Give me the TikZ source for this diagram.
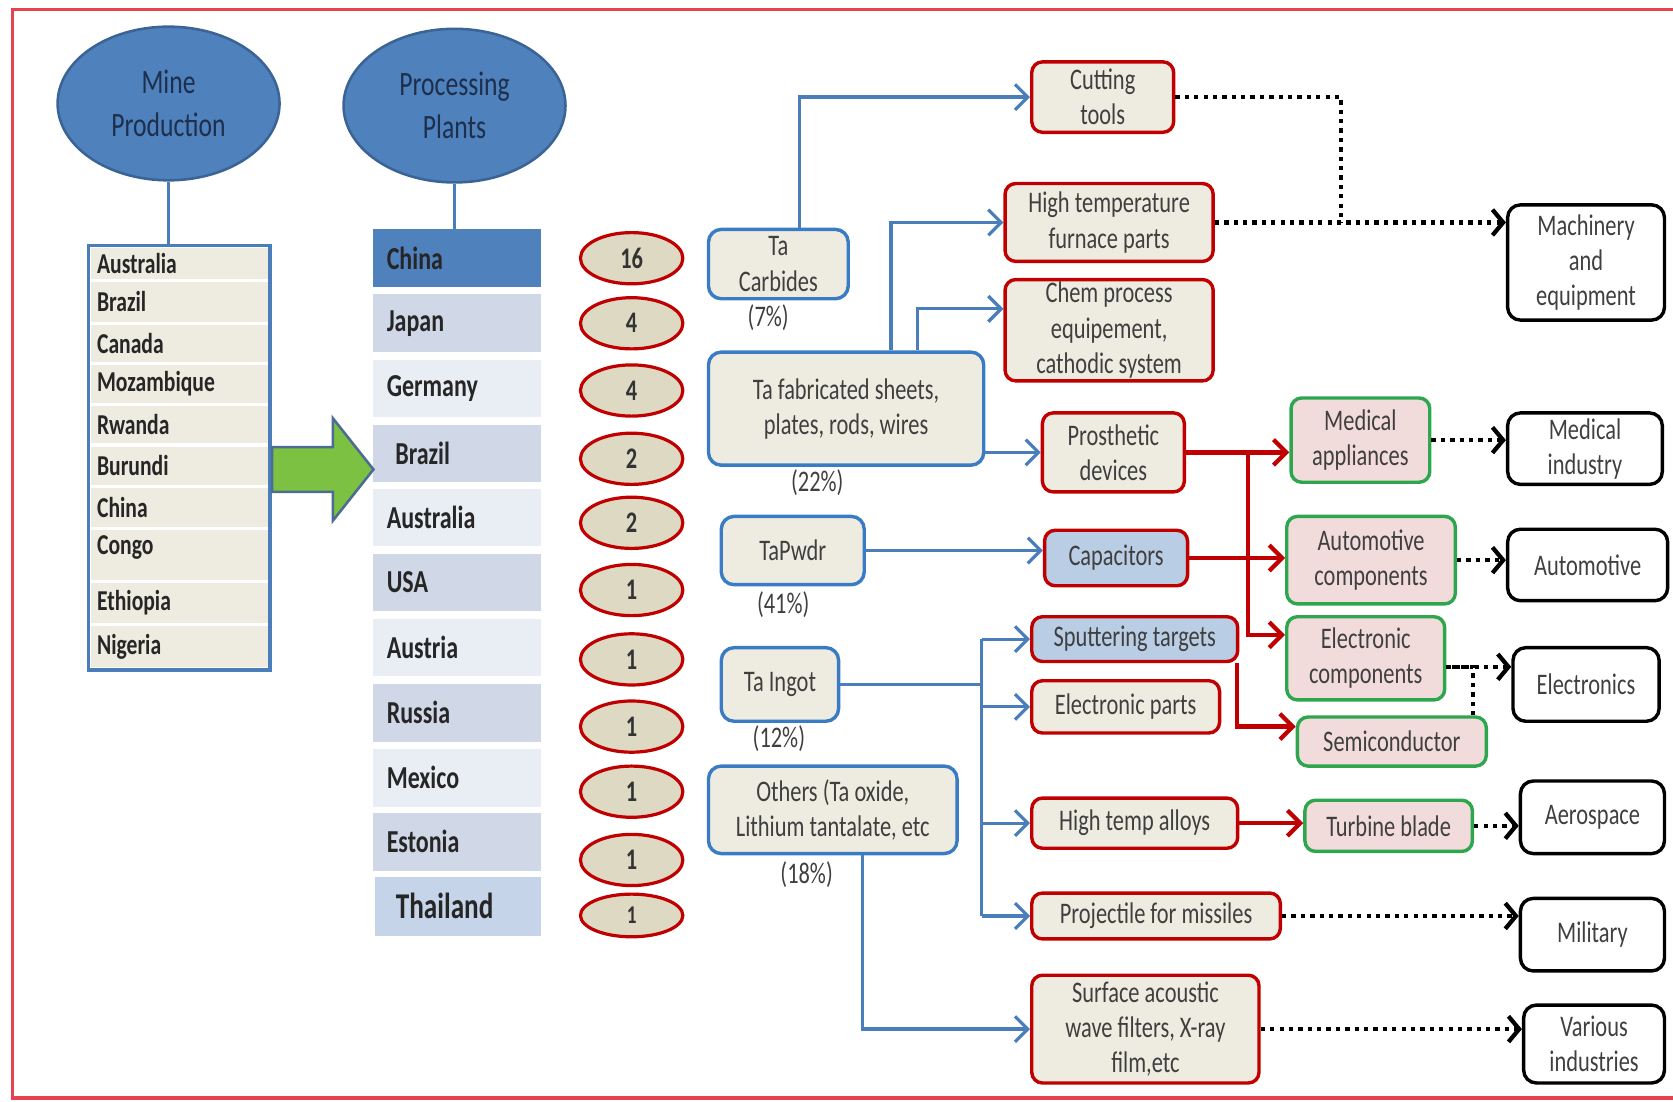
\documentclass[tikz,border=0pt]{standalone}
\usepackage{fontspec}
\setmainfont[FakeStretch=0.75]{Carlito}
\usetikzlibrary{shapes.geometric,arrows.meta}

\definecolor{framered}{HTML}{E5444F}
\definecolor{ovalblue}{HTML}{4F81BD}
\definecolor{ovalline}{HTML}{3A6496}
\definecolor{ovaltext}{HTML}{1D2F4C}
\definecolor{listbeige}{HTML}{EEECE1}
\definecolor{listblue}{HTML}{4A7EBB}
\definecolor{rowdark}{HTML}{D0D8E8}
\definecolor{rowlight}{HTML}{E9EDF4}
\definecolor{rowthai}{HTML}{C5D4E9}
\definecolor{countfill}{HTML}{DDD9C3}
\definecolor{darkred}{HTML}{C00000}
\definecolor{prodblue}{HTML}{3A7CC4}
\definecolor{linkblue}{HTML}{4A7EBB}
\definecolor{usesky}{HTML}{B9CDE5}
\definecolor{partgreen}{HTML}{2EA64E}
\definecolor{partpink}{HTML}{F2DCDB}
\definecolor{arrowgreen}{HTML}{7CC142}
\definecolor{arrowedge}{HTML}{4C6C93}
\definecolor{boxtext}{HTML}{3F3F3F}

\begin{document}
\begin{tikzpicture}[x=0.5pt,y=-0.5pt,
	every node/.style={font=\fontsize{14}{16.5}\selectfont, text=boxtext, inner sep=2pt},
	source/.style={ellipse, draw=ovalline, fill=ovalblue, line width=1.2pt,
		minimum width=104pt, minimum height=72pt, text=ovaltext,
		font=\fontsize{16}{20}\selectfont, align=center},
	minerow/.style={rectangle, fill=listbeige, minimum width=83pt, text width=77pt,
		align=left, inner xsep=3pt, text=black!85, font=\fontsize{13.5}{16}\selectfont\bfseries},
	plant/.style={rectangle, minimum width=78.5pt, minimum height=27pt, text width=66pt,
		align=left, inner xsep=6pt, text=black!85, font=\fontsize{15}{18}\selectfont\bfseries},
	count/.style={ellipse, draw=darkred, fill=countfill, line width=1.5pt,
		minimum width=48pt, minimum height=24pt, inner sep=0pt, text=black!80,
		font=\fontsize{14}{16}\selectfont\bfseries},
	product/.style={rectangle, rounded corners=6pt, draw=prodblue, fill=listbeige,
		line width=1.6pt, align=center},
	use/.style={rectangle, rounded corners=5pt, draw=darkred, fill=listbeige,
		line width=1.6pt, align=center},
	part/.style={rectangle, rounded corners=5pt, draw=partgreen, fill=partpink,
		line width=1.6pt, align=center},
	sector/.style={rectangle, rounded corners=6pt, draw=black, fill=white,
		line width=1.6pt, align=center, text=black!75},
	feed/.style={draw=linkblue, line width=1.5pt, -{Straight Barb[length=6pt,width=12pt]}},
	make/.style={draw=darkred, line width=2pt, -{Straight Barb[length=6pt,width=12pt]}},
	market/.style={draw=black, line width=2pt, dash pattern=on 2pt off 2.4pt},
	]
	\useasboundingbox (0,0) rectangle (1568,1032);
	\draw[framered, line width=1.5pt] (12,9) rectangle (1620,1029);

	% where the ore comes from and where it is processed
	\node[source] (mine) at (158,97) {Mine\\Production};
	\node[source] (plants) at (426,99) {Processing\\Plants};

	\node[rectangle, draw=listblue, fill=white, line width=1.5pt,
		minimum width=85pt, minimum height=199pt] (minelist) at (168,429) {};
	\node[minerow, minimum height=14.5pt] (mAus) at (168,247) {Australia};
	\node[minerow, minimum height=18.5pt] (mBra) at (168,283) {Brazil};
	\node[minerow, minimum height=17.5pt] (mCan) at (168,322) {Canada};
	\node[minerow, minimum height=17.5pt] (mMoz) at (168,360) {Mozambique};
	\node[minerow, minimum height=17.5pt] (mRwa) at (168,398) {Rwanda};
	\node[minerow, minimum height=18pt] (mBur) at (168,436.5) {Burundi};
	\node[minerow, minimum height=18pt] (mChi) at (168,475.5) {China};
	\node[minerow, minimum height=23.5pt, text depth=9pt] (mCon) at (168,520) {Congo};
	\node[minerow, minimum height=18.5pt] (mEth) at (168,565) {Ethiopia};
	\node[minerow, minimum height=19.5pt] (mNig) at (168,606) {Nigeria};

	\node[plant, fill=ovalblue] (pChina) at (428.5,242) {China};
	\node[plant, fill=rowdark] (pJapan) at (428.5,303) {Japan};
	\node[plant, fill=rowlight] (pGermany) at (428.5,364) {Germany};
	\node[plant, fill=rowdark] (pBrazil) at (428.5,425) {\hspace{4pt}Brazil};
	\node[plant, fill=rowlight] (pAustralia) at (428.5,485) {Australia};
	\node[plant, fill=rowdark] (pUSA) at (428.5,546) {USA};
	\node[plant, fill=rowlight] (pAustria) at (428.5,607) {Austria};
	\node[plant, fill=rowdark] (pRussia) at (428.5,668) {Russia};
	\node[plant, fill=rowlight] (pMexico) at (428.5,729) {Mexico};
	\node[plant, fill=rowdark] (pEstonia) at (428.5,789) {Estonia};
	\node[plant, fill=rowthai, minimum width=76pt, minimum height=27.5pt,
		font=\fontsize{17}{20}\selectfont\bfseries] (pThailand) at (429,849.5) {\hspace{4pt}Thailand};

	\node[count] (cChina) at (592,242) {16};
	\node[count] (cJapan) at (592,303) {4};
	\node[count] (cGermany) at (592,366) {4};
	\node[count] (cBrazil) at (592,430) {2};
	\node[count] (cAustralia) at (592,490) {2};
	\node[count] (cUSA) at (592,553) {1};
	\node[count] (cAustria) at (592,618) {1};
	\node[count] (cRussia) at (592,681) {1};
	\node[count] (cMexico) at (592,742) {1};
	\node[count] (cEstonia) at (592,806) {1};
	\node[count, minimum height=20pt, font=\fontsize{12}{14}\selectfont\bfseries] (cThailand) at (592,858) {1};

	\draw[listblue, line width=1.5pt] (mine.south) -- (mine.south |- minelist.north);
	\draw[listblue, line width=1.5pt] (plants.south) -- (plants.south |- pChina.north);
	\draw[fill=arrowgreen, draw=arrowedge, line width=1.2pt]
		(255,419) -- (312,419) -- (312,392) -- (350,440) -- (312,488) -- (312,461) -- (255,461) -- cycle;

	% tantalum products and their shares
	\node[product, minimum width=65.5pt, minimum height=32.5pt] (carb) at (729.5,247.5) {Ta\\Carbides};
	\node[product, minimum width=129pt, minimum height=53pt] (fab) at (793,383) {Ta fabricated sheets,\\plates, rods, wires};
	\node[product, minimum width=67pt, minimum height=32pt] (pwdr) at (743,516) {TaPwdr};
	\node[product, minimum width=55pt, minimum height=34.5pt] (ingot) at (731,641.5) {Ta Ingot};
	\node[product, minimum width=116.5pt, minimum height=41pt] (others) at (780.5,759) {Others (Ta oxide,\\Lithium tantalate, etc};

	\node (carbpct) at (720,298) {(7\%)};
	\node (fabpct) at (766,452) {(22\%)};
	\node (pwdrpct) at (734,567) {(41\%)};
	\node (ingotpct) at (730,692) {(12\%)};
	\node (otherspct) at (756,820) {(18\%)};

	% first uses
	\node[use, minimum width=66.5pt, minimum height=33pt] (cut) at (1033.5,91) {Cutting\\tools};
	\node[use, minimum width=97.5pt, minimum height=36.5pt] (furn) at (1039.5,208.5) {High temperature\\furnace parts};
	\node[use, minimum width=97.5pt, minimum height=47.5pt, inner ysep=0pt] (chem) at (1039.5,309.5) {Chem process\\equipement,\\cathodic system};
	\node[use, minimum width=66.5pt, minimum height=37pt] (pros) at (1043.5,424) {Prosthetic\\devices};
	\node[use, fill=usesky, minimum width=67pt, minimum height=26pt] (cap) at (1046,523) {Capacitors};
	\node[use, fill=usesky, minimum width=96.5pt, minimum height=21pt] (sput) at (1063.5,599) {Sputtering targets};
	\node[use, minimum width=88pt, minimum height=24.5pt] (epart) at (1055,662.5) {Electronic parts};
	\node[use, minimum width=96.5pt, minimum height=23.5pt] (alloy) at (1063.5,771.5) {High temp alloys};
	\node[use, minimum width=116.5pt, minimum height=21.5pt] (proj) at (1083.5,858.5) {Projectile for missiles};
	\node[use, minimum width=106.5pt, minimum height=50.5pt] (saw) at (1073.5,964.5) {Surface acoustic\\wave filters, X-ray\\film,etc};

	% components
	\node[part, minimum width=65pt, minimum height=39.5pt] (medapp) at (1275,412.5) {Medical\\appliances};
	\node[part, minimum width=79pt, minimum height=41pt] (autocomp) at (1285,525) {Automotive\\components};
	\node[part, minimum width=74pt, minimum height=39pt] (elcomp) at (1280,617) {Electronic\\components};
	\node[part, minimum width=88.5pt, minimum height=23pt] (semi) at (1304.5,695) {Semiconductor};
	\node[part, minimum width=78.5pt, minimum height=24pt] (turb) at (1301.5,774) {Turbine blade};

	% end markets
	\node[sector, minimum width=73.5pt, minimum height=54pt] (mach) at (1486.5,246) {Machinery\\and\\equipment};
	\node[sector, minimum width=72.5pt, minimum height=33.5pt] (medind) at (1485.5,420.5) {Medical\\industry};
	\node[sector, minimum width=75pt, minimum height=33.5pt] (auto) at (1488,529.5) {Automotive};
	\node[sector, minimum width=68.5pt, minimum height=34.5pt] (elec) at (1486.5,641.5) {Electronics};
	\node[sector, minimum width=67.5pt, minimum height=34pt] (aero) at (1492.5,766) {Aerospace};
	\node[sector, minimum width=67.5pt, minimum height=34pt] (mil) at (1492.5,876) {Military};
	\node[sector, minimum width=66pt, minimum height=36.5pt] (var) at (1494,978.5) {Various\\industries};

	\coordinate (trunk) at (920,0);
	\coordinate (redtrunk) at (1170,0);
	\coordinate (dotjoin) at (1257,0);

	% products to uses
	\draw[feed] ([xshift=10pt]carb.north) |- (cut.west);
	\draw[feed] ([xshift=21pt]fab.north) |- (furn.west);
	\draw[feed] ([xshift=33.5pt]fab.north) |- ([yshift=10pt]chem.west);
	\draw[feed] (fab.east |- pros.west) -- (pros.west);
	\draw[feed] (pwdr.east) -- (pwdr.east -| cap.west);
	\draw[linkblue, line width=1.5pt] (ingot.east) -- (ingot.east -| trunk);
	\draw[linkblue, line width=1.5pt] (trunk |- sput.west) -- (trunk |- proj.west);
	\draw[feed] (trunk |- sput.west) -- (sput.west);
	\draw[feed] (trunk |- epart.west) -- (epart.west);
	\draw[feed] (trunk |- alloy.west) -- (alloy.west);
	\draw[feed] (trunk |- proj.west) -- (proj.west);
	\draw[feed] ([xshift=13.75pt]others.south) |- (saw.west);

	% uses to components
	\draw[make] (pros.east) -- (pros.east -| medapp.west);
	\draw[make] (pros.east -| redtrunk) |- ([yshift=11pt]elcomp.west);
	\draw[make] (cap.east) -- (cap.east -| autocomp.west);
	\draw[make] ([xshift=-1pt]sput.south east) |- ([yshift=7pt]semi.west);
	\draw[make] (alloy.east) -- (alloy.east -| turb.west);

	% on to the markets
	\tikzstyle{tip}=[-{Straight Barb[length=5pt,width=12pt]}]
	\draw[market] (cut.east) -| (furn.east -| dotjoin);
	\draw[market, tip] (furn.east) -- (furn.east -| mach.west);
	\draw[market, tip] (medapp.east) -- (medapp.east -| medind.west);
	\draw[market, tip] (autocomp.east) -- (autocomp.east -| auto.west);
	\draw[market, tip] ([yshift=-4pt]elcomp.east) -- ([yshift=-4pt]elcomp.east -| elec.west);
	\draw[market] ([xshift=-7pt]semi.north east) |- ([yshift=-4pt]elcomp.east);
	\draw[market, tip] (turb.east) -- (turb.east -| aero.west);
	\draw[market, tip] (proj.east) -- (proj.east -| mil.west);
	\draw[market, tip] (saw.east) -- (saw.east -| var.west);
\end{tikzpicture}
\end{document}
